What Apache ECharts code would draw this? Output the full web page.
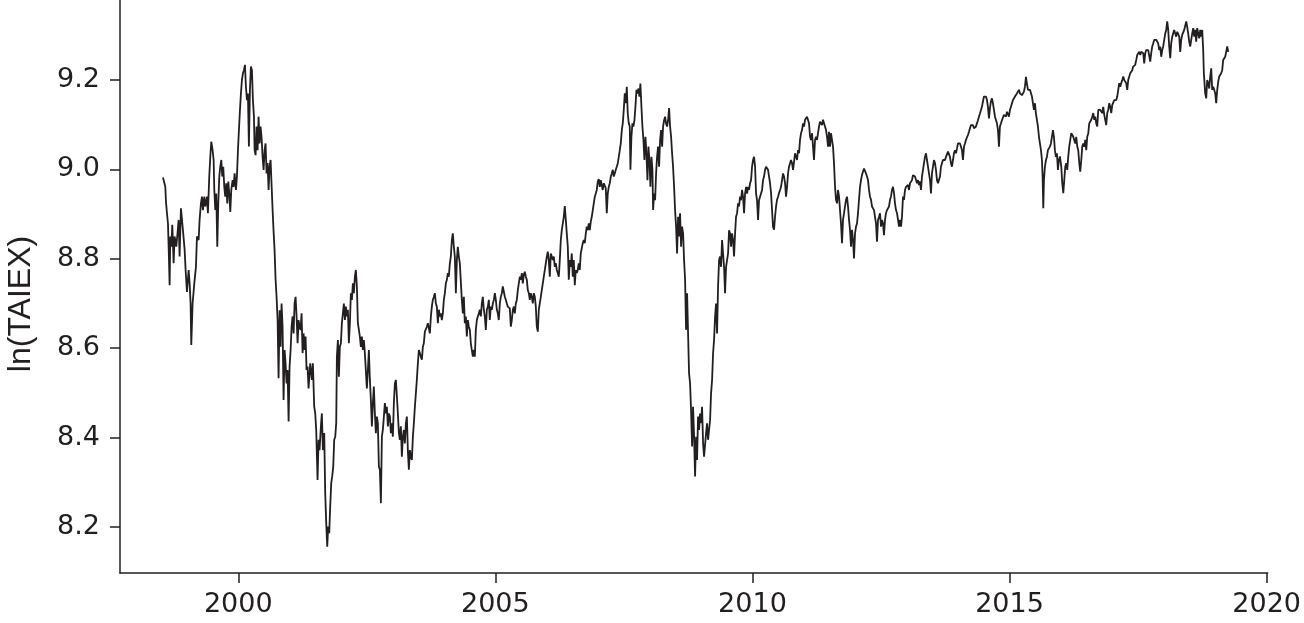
<!DOCTYPE html>
<html>
<head>
<meta charset="utf-8">
<script src="https://cdn.jsdelivr.net/npm/echarts@6/dist/echarts.min.js"></script>
<style>
html,body{margin:0;padding:0;background:#fff;}
#chart{width:1304px;height:623px;}
</style>
</head>
<body>
<div id="chart"></div>
<script>
// ln(TAIEX), [decimal year, value]
const seg1998_2001 = [[1998.536,8.982],[1998.581,8.961],[1998.594,8.928],[1998.613,8.902],[1998.633,8.879],[1998.646,8.827],[1998.665,8.741],[1998.678,8.850],[1998.698,8.827],[1998.717,8.876],[1998.743,8.790],[1998.762,8.850],[1998.795,8.827],[1998.821,8.861],[1998.840,8.887],[1998.859,8.805],[1998.885,8.913],[1998.905,8.917],[1998.924,8.864],[1998.957,8.820],[1998.976,8.775],[1999.002,8.726],[1999.035,8.775],[1999.054,8.745],[1999.073,8.700],[1999.086,8.607],[1999.112,8.700],[1999.145,8.745],[1999.177,8.782],[1999.197,8.850],[1999.229,8.842],[1999.248,8.887],[1999.274,8.924],[1999.294,8.939],[1999.313,8.909],[1999.339,8.939],[1999.358,8.917],[1999.391,8.939],[1999.410,8.902],[1999.436,8.984],[1999.456,9.028],[1999.475,9.062],[1999.501,9.043],[1999.521,9.021],[1999.534,8.954],[1999.553,8.909],[1999.572,8.946],[1999.592,8.827],[1999.611,8.924],[1999.631,8.984],[1999.650,9.006],[1999.670,9.021],[1999.689,8.984],[1999.708,9.006],[1999.728,8.961],[1999.747,8.939],[1999.767,8.969],[1999.786,8.924],[1999.806,8.973],[1999.825,8.946],[1999.845,8.905],[1999.864,8.954],[1999.890,8.976],[1999.909,8.961],[1999.929,8.991],[1999.955,8.954],[1999.974,8.984],[1999.994,9.043],[2000.013,9.088],[2000.033,9.133],[2000.052,9.170],[2000.071,9.200],[2000.091,9.215],[2000.110,9.222],[2000.130,9.234],[2000.149,9.185],[2000.169,9.155],[2000.188,9.170],[2000.207,9.051],[2000.227,9.178],[2000.246,9.230],[2000.266,9.222],[2000.285,9.155],[2000.305,9.118],[2000.318,9.043],[2000.337,9.032],[2000.356,9.096],[2000.376,9.043],[2000.395,9.118],[2000.415,9.058],[2000.434,9.096],[2000.454,9.070],[2000.473,9.028],[2000.493,8.999],[2000.512,9.043],[2000.531,9.058],[2000.551,8.991],[2000.570,9.014],[2000.590,8.954],[2000.609,9.006],[2000.629,9.021],[2000.648,8.965],[2000.668,8.909],[2000.687,8.861],[2000.706,8.820],[2000.726,8.753],[2000.745,8.715],[2000.765,8.663],[2000.784,8.533],[2000.804,8.685],[2000.823,8.603],[2000.842,8.700],[2000.862,8.648],[2000.881,8.484],[2000.901,8.596],[2000.920,8.566],[2000.940,8.521],[2000.959,8.551],[2000.979,8.436],[2000.998,8.559],[2001.018,8.596],[2001.037,8.648],[2001.056,8.671],[2001.076,8.633],[2001.095,8.700],[2001.115,8.715],[2001.134,8.671],[2001.154,8.611],[2001.173,8.663],[2001.192,8.648],[2001.212,8.641],[2001.231,8.678],[2001.251,8.589],[2001.270,8.633],[2001.290,8.596],[2001.309,8.626],[2001.328,8.551],[2001.348,8.559],[2001.367,8.510]];

const seg2001_2004 = [[2001.400,8.566],[2001.432,8.529],[2001.451,8.566],[2001.477,8.469],[2001.497,8.454],[2001.516,8.417],[2001.542,8.305],[2001.562,8.395],[2001.581,8.372],[2001.607,8.425],[2001.626,8.454],[2001.646,8.372],[2001.672,8.410],[2001.691,8.275],[2001.711,8.208],[2001.730,8.156],[2001.750,8.201],[2001.769,8.186],[2001.788,8.246],[2001.808,8.298],[2001.827,8.313],[2001.847,8.335],[2001.866,8.395],[2001.886,8.402],[2001.905,8.432],[2001.918,8.581],[2001.938,8.618],[2001.957,8.536],[2001.976,8.603],[2001.996,8.611],[2002.015,8.656],[2002.035,8.678],[2002.054,8.700],[2002.074,8.663],[2002.093,8.693],[2002.112,8.671],[2002.132,8.686],[2002.151,8.611],[2002.171,8.656],[2002.190,8.723],[2002.210,8.708],[2002.229,8.745],[2002.249,8.723],[2002.268,8.760],[2002.287,8.775],[2002.307,8.738],[2002.326,8.656],[2002.346,8.641],[2002.365,8.626],[2002.385,8.603],[2002.404,8.626],[2002.423,8.596],[2002.443,8.618],[2002.462,8.589],[2002.482,8.589],[2002.501,8.510],[2002.521,8.551],[2002.540,8.596],[2002.560,8.529],[2002.579,8.484],[2002.599,8.425],[2002.618,8.477],[2002.637,8.514],[2002.657,8.454],[2002.676,8.410],[2002.696,8.447],[2002.715,8.432],[2002.735,8.335],[2002.754,8.328],[2002.774,8.253],[2002.793,8.402],[2002.812,8.417],[2002.832,8.447],[2002.851,8.477],[2002.871,8.454],[2002.890,8.469],[2002.910,8.425],[2002.929,8.454],[2002.949,8.447],[2002.968,8.410],[2002.987,8.432],[2003.007,8.402],[2003.026,8.477],[2003.046,8.521],[2003.065,8.529],[2003.085,8.492],[2003.104,8.454],[2003.124,8.410],[2003.143,8.395],[2003.162,8.425],[2003.182,8.357],[2003.201,8.402],[2003.221,8.417],[2003.240,8.387],[2003.260,8.432],[2003.279,8.447],[2003.298,8.372],[2003.318,8.328],[2003.337,8.372],[2003.357,8.357],[2003.376,8.350],[2003.396,8.402],[2003.415,8.432],[2003.435,8.469],[2003.454,8.499],[2003.473,8.529],[2003.493,8.566],[2003.512,8.596],[2003.532,8.589],[2003.551,8.581],[2003.571,8.574],[2003.590,8.603],[2003.609,8.611],[2003.629,8.637],[2003.648,8.641],[2003.668,8.648],[2003.687,8.656],[2003.707,8.659],[2003.726,8.633],[2003.746,8.671],[2003.765,8.693],[2003.784,8.708],[2003.804,8.715],[2003.823,8.723],[2003.843,8.700],[2003.862,8.693],[2003.882,8.656],[2003.901,8.686],[2003.921,8.671],[2003.940,8.678],[2003.959,8.663],[2003.979,8.678],[2003.998,8.708],[2004.018,8.723],[2004.037,8.745],[2004.057,8.753],[2004.076,8.768],[2004.095,8.760],[2004.115,8.790],[2004.134,8.805],[2004.154,8.842],[2004.173,8.857],[2004.193,8.827],[2004.212,8.805],[2004.232,8.723],[2004.251,8.797],[2004.270,8.827],[2004.290,8.805],[2004.309,8.790]];

const seg2004_2007 = [[2004.329,8.790],[2004.348,8.708],[2004.368,8.678],[2004.387,8.715],[2004.406,8.656],[2004.426,8.671],[2004.445,8.626],[2004.465,8.663],[2004.484,8.648],[2004.504,8.641],[2004.523,8.611],[2004.542,8.596],[2004.562,8.581],[2004.581,8.596],[2004.601,8.581],[2004.620,8.641],[2004.640,8.663],[2004.659,8.671],[2004.679,8.678],[2004.698,8.686],[2004.717,8.671],[2004.737,8.700],[2004.756,8.715],[2004.776,8.686],[2004.795,8.671],[2004.815,8.641],[2004.834,8.686],[2004.854,8.693],[2004.873,8.708],[2004.892,8.663],[2004.912,8.693],[2004.931,8.686],[2004.951,8.700],[2004.970,8.708],[2004.990,8.723],[2005.009,8.708],[2005.029,8.686],[2005.048,8.678],[2005.067,8.663],[2005.087,8.700],[2005.106,8.715],[2005.126,8.723],[2005.145,8.738],[2005.165,8.741],[2005.184,8.715],[2005.204,8.708],[2005.223,8.700],[2005.242,8.693],[2005.262,8.697],[2005.281,8.689],[2005.301,8.648],[2005.320,8.663],[2005.340,8.686],[2005.359,8.693],[2005.378,8.678],[2005.398,8.700],[2005.417,8.708],[2005.437,8.730],[2005.456,8.745],[2005.476,8.760],[2005.495,8.753],[2005.515,8.768],[2005.534,8.745],[2005.553,8.764],[2005.573,8.771],[2005.592,8.760],[2005.612,8.753],[2005.631,8.730],[2005.651,8.723],[2005.670,8.708],[2005.689,8.723],[2005.709,8.715],[2005.728,8.700],[2005.748,8.723],[2005.767,8.715],[2005.787,8.693],[2005.806,8.648],[2005.826,8.637],[2005.845,8.686],[2005.864,8.700],[2005.884,8.715],[2005.903,8.730],[2005.923,8.745],[2005.942,8.760],[2005.962,8.775],[2005.981,8.790],[2006.001,8.805],[2006.020,8.816],[2006.039,8.797],[2006.059,8.760],[2006.078,8.812],[2006.098,8.805],[2006.117,8.797],[2006.137,8.805],[2006.156,8.782],[2006.175,8.790],[2006.195,8.775],[2006.214,8.768],[2006.234,8.760],[2006.253,8.797],[2006.273,8.842],[2006.292,8.864],[2006.312,8.879],[2006.331,8.894],[2006.350,8.918],[2006.370,8.887],[2006.389,8.857],[2006.409,8.827],[2006.428,8.753],[2006.448,8.797],[2006.467,8.782],[2006.486,8.812],[2006.506,8.760],[2006.525,8.797],[2006.545,8.741],[2006.564,8.775],[2006.584,8.768],[2006.603,8.775],[2006.622,8.790],[2006.642,8.775],[2006.661,8.812],[2006.681,8.812],[2006.700,8.835],[2006.720,8.842],[2006.739,8.835],[2006.759,8.857],[2006.778,8.872],[2006.797,8.864],[2006.817,8.879],[2006.836,8.864],[2006.856,8.883],[2006.875,8.894],[2006.895,8.909],[2006.914,8.924],[2006.934,8.939],[2006.953,8.946],[2006.972,8.954],[2006.992,8.973],[2007.011,8.978],[2007.031,8.961],[2007.050,8.976],[2007.070,8.973],[2007.089,8.954],[2007.109,8.969],[2007.128,8.973],[2007.147,8.958],[2007.167,8.902],[2007.186,8.946],[2007.206,8.961],[2007.225,8.969]];

const seg2007_2010 = [[2007.245,8.984],[2007.264,8.991],[2007.284,8.999],[2007.303,8.984],[2007.322,8.991],[2007.342,8.999],[2007.361,9.006],[2007.381,9.014],[2007.400,9.028],[2007.420,9.043],[2007.439,9.058],[2007.459,9.088],[2007.478,9.103],[2007.497,9.133],[2007.517,9.170],[2007.536,9.148],[2007.556,9.185],[2007.575,9.125],[2007.595,9.103],[2007.614,9.096],[2007.627,8.999],[2007.646,9.073],[2007.666,9.103],[2007.685,9.096],[2007.705,9.110],[2007.724,9.140],[2007.744,9.178],[2007.763,9.170],[2007.783,9.181],[2007.802,9.163],[2007.821,9.192],[2007.841,9.140],[2007.860,9.096],[2007.880,9.066],[2007.899,9.021],[2007.919,9.073],[2007.938,9.036],[2007.958,8.976],[2007.977,9.051],[2007.996,9.021],[2008.016,8.961],[2008.035,9.028],[2008.055,8.999],[2008.068,8.909],[2008.087,8.946],[2008.107,8.931],[2008.126,8.991],[2008.145,9.028],[2008.165,9.051],[2008.184,9.006],[2008.204,9.066],[2008.223,9.088],[2008.243,9.051],[2008.262,9.096],[2008.282,9.110],[2008.301,9.118],[2008.320,9.103],[2008.340,9.096],[2008.359,9.110],[2008.379,9.137],[2008.398,9.096],[2008.418,9.073],[2008.437,9.036],[2008.456,9.006],[2008.476,8.961],[2008.495,8.909],[2008.515,8.872],[2008.534,8.812],[2008.554,8.894],[2008.573,8.850],[2008.592,8.902],[2008.612,8.827],[2008.631,8.872],[2008.651,8.857],[2008.670,8.797],[2008.690,8.753],[2008.709,8.641],[2008.729,8.723],[2008.748,8.633],[2008.767,8.544],[2008.787,8.521],[2008.806,8.462],[2008.826,8.380],[2008.845,8.469],[2008.865,8.402],[2008.884,8.313],[2008.904,8.402],[2008.923,8.350],[2008.942,8.447],[2008.962,8.417],[2008.981,8.454],[2009.001,8.432],[2009.020,8.469],[2009.040,8.387],[2009.059,8.357],[2009.079,8.357],[2009.098,8.410],[2009.117,8.432],[2009.137,8.395],[2009.156,8.417],[2009.176,8.439],[2009.195,8.499],[2009.215,8.529],[2009.234,8.588],[2009.253,8.618],[2009.273,8.670],[2009.292,8.700],[2009.312,8.633],[2009.331,8.738],[2009.351,8.797],[2009.370,8.805],[2009.390,8.782],[2009.409,8.842],[2009.428,8.812],[2009.448,8.782],[2009.467,8.723],[2009.487,8.782],[2009.506,8.797],[2009.526,8.812],[2009.545,8.864],[2009.564,8.857],[2009.584,8.827],[2009.603,8.857],[2009.623,8.842],[2009.642,8.805],[2009.662,8.857],[2009.681,8.894],[2009.701,8.902],[2009.720,8.924],[2009.739,8.917],[2009.759,8.939],[2009.778,8.931],[2009.798,8.954],[2009.817,8.939],[2009.837,8.902],[2009.856,8.946],[2009.876,8.961],[2009.895,8.946],[2009.914,8.961],[2009.934,8.954],[2009.953,8.969],[2009.973,8.976],[2009.992,9.006],[2010.012,9.021],[2010.031,9.028],[2010.051,9.006],[2010.070,8.946],[2010.089,8.931],[2010.109,8.887],[2010.128,8.931]];

const seg2010_2013 = [[2010.148,8.939],[2010.167,8.939],[2010.187,8.954],[2010.206,8.976],[2010.225,8.984],[2010.245,8.999],[2010.264,9.006],[2010.284,9.006],[2010.303,8.999],[2010.323,8.984],[2010.342,8.969],[2010.362,8.947],[2010.381,8.909],[2010.400,8.872],[2010.420,8.865],[2010.439,8.894],[2010.459,8.917],[2010.478,8.932],[2010.498,8.939],[2010.517,8.947],[2010.537,8.954],[2010.556,8.961],[2010.575,8.976],[2010.595,8.991],[2010.614,8.984],[2010.634,8.969],[2010.653,8.939],[2010.673,8.961],[2010.692,8.991],[2010.711,9.006],[2010.731,9.010],[2010.750,9.021],[2010.770,9.014],[2010.789,8.999],[2010.809,9.017],[2010.828,9.036],[2010.848,9.029],[2010.867,9.021],[2010.886,9.043],[2010.906,9.036],[2010.925,9.066],[2010.945,9.081],[2010.964,9.088],[2010.984,9.103],[2011.003,9.096],[2011.023,9.111],[2011.042,9.114],[2011.061,9.118],[2011.081,9.122],[2011.100,9.103],[2011.120,9.073],[2011.139,9.066],[2011.159,9.081],[2011.178,9.051],[2011.197,9.021],[2011.217,9.066],[2011.236,9.073],[2011.256,9.066],[2011.275,9.081],[2011.295,9.096],[2011.314,9.107],[2011.334,9.111],[2011.353,9.099],[2011.372,9.111],[2011.392,9.103],[2011.411,9.107],[2011.431,9.088],[2011.450,9.073],[2011.470,9.051],[2011.489,9.084],[2011.509,9.051],[2011.528,9.081],[2011.547,9.066],[2011.567,9.051],[2011.586,9.014],[2011.606,8.961],[2011.625,8.932],[2011.645,8.924],[2011.664,8.954],[2011.684,8.939],[2011.703,8.909],[2011.722,8.879],[2011.742,8.835],[2011.761,8.887],[2011.781,8.902],[2011.800,8.917],[2011.820,8.932],[2011.839,8.939],[2011.859,8.917],[2011.878,8.887],[2011.897,8.865],[2011.917,8.827],[2011.936,8.865],[2011.956,8.842],[2011.975,8.801],[2011.995,8.857],[2012.014,8.872],[2012.033,8.879],[2012.053,8.902],[2012.072,8.932],[2012.092,8.961],[2012.111,8.976],[2012.131,8.988],[2012.150,8.984],[2012.170,9.002],[2012.189,9.006],[2012.208,8.991],[2012.228,8.984],[2012.247,8.976],[2012.267,8.954],[2012.286,8.939],[2012.306,8.932],[2012.325,8.917],[2012.345,8.917],[2012.364,8.909],[2012.383,8.894],[2012.403,8.879],[2012.422,8.838],[2012.442,8.887],[2012.461,8.894],[2012.481,8.902],[2012.500,8.872],[2012.520,8.887],[2012.539,8.879],[2012.558,8.853],[2012.578,8.887],[2012.597,8.902],[2012.617,8.909],[2012.636,8.909],[2012.656,8.917],[2012.675,8.932],[2012.694,8.939],[2012.714,8.954],[2012.733,8.961],[2012.753,8.947],[2012.772,8.924],[2012.792,8.909],[2012.811,8.902],[2012.831,8.887],[2012.850,8.872],[2012.869,8.887],[2012.889,8.872],[2012.908,8.894],[2012.928,8.939],[2012.947,8.932],[2012.967,8.954],[2012.986,8.961],[2013.006,8.958],[2013.025,8.965],[2013.044,8.954]];

const seg2013_2016 = [[2013.064,8.969],[2013.083,8.973],[2013.103,8.976],[2013.122,8.987],[2013.142,8.991],[2013.161,8.984],[2013.180,8.980],[2013.200,8.969],[2013.219,8.976],[2013.239,8.965],[2013.258,8.973],[2013.278,8.954],[2013.297,8.984],[2013.317,8.999],[2013.336,9.014],[2013.355,9.028],[2013.375,9.036],[2013.394,9.021],[2013.414,9.006],[2013.433,8.991],[2013.453,8.976],[2013.472,8.946],[2013.491,8.991],[2013.511,9.006],[2013.530,9.021],[2013.550,9.014],[2013.569,8.999],[2013.589,8.976],[2013.608,8.969],[2013.628,8.965],[2013.647,8.984],[2013.666,9.006],[2013.686,9.014],[2013.705,9.021],[2013.725,9.025],[2013.744,9.021],[2013.764,9.028],[2013.783,9.032],[2013.803,9.040],[2013.822,9.043],[2013.841,9.028],[2013.861,9.014],[2013.880,9.006],[2013.900,9.021],[2013.919,9.036],[2013.939,9.043],[2013.958,9.036],[2013.978,9.047],[2013.997,9.058],[2014.016,9.062],[2014.036,9.058],[2014.055,9.051],[2014.075,9.043],[2014.094,9.021],[2014.114,9.051],[2014.133,9.058],[2014.152,9.066],[2014.172,9.069],[2014.191,9.077],[2014.211,9.084],[2014.230,9.092],[2014.250,9.099],[2014.269,9.096],[2014.289,9.099],[2014.308,9.092],[2014.327,9.088],[2014.347,9.096],[2014.366,9.103],[2014.386,9.110],[2014.405,9.118],[2014.425,9.125],[2014.444,9.133],[2014.463,9.140],[2014.483,9.152],[2014.502,9.163],[2014.522,9.166],[2014.541,9.163],[2014.561,9.155],[2014.580,9.140],[2014.600,9.114],[2014.619,9.137],[2014.638,9.152],[2014.658,9.159],[2014.677,9.148],[2014.697,9.133],[2014.716,9.118],[2014.736,9.114],[2014.755,9.103],[2014.775,9.088],[2014.794,9.051],[2014.813,9.096],[2014.833,9.103],[2014.852,9.110],[2014.872,9.114],[2014.891,9.122],[2014.911,9.125],[2014.930,9.118],[2014.950,9.129],[2014.969,9.125],[2014.988,9.118],[2015.008,9.133],[2015.027,9.140],[2015.047,9.144],[2015.066,9.155],[2015.086,9.159],[2015.105,9.163],[2015.125,9.166],[2015.144,9.170],[2015.163,9.174],[2015.183,9.178],[2015.202,9.170],[2015.222,9.174],[2015.241,9.166],[2015.261,9.170],[2015.280,9.174],[2015.299,9.185],[2015.319,9.207],[2015.338,9.192],[2015.358,9.178],[2015.377,9.181],[2015.397,9.178],[2015.416,9.174],[2015.436,9.163],[2015.455,9.148],[2015.474,9.133],[2015.494,9.148],[2015.513,9.125],[2015.533,9.110],[2015.552,9.096],[2015.572,9.073],[2015.591,9.058],[2015.611,9.043],[2015.630,9.021],[2015.643,8.984],[2015.656,8.913],[2015.669,8.976],[2015.688,9.006],[2015.708,9.021],[2015.727,9.028],[2015.746,9.043],[2015.766,9.040],[2015.785,9.051],[2015.805,9.058],[2015.824,9.073],[2015.844,9.088],[2015.863,9.073],[2015.882,9.043],[2015.902,9.028],[2015.921,9.036],[2015.941,8.999],[2015.960,9.021]];

const seg2016_2019 = [[2015.980,9.029],[2016.006,9.006],[2016.025,8.969],[2016.045,8.947],[2016.064,8.976],[2016.083,9.006],[2016.103,9.014],[2016.122,8.999],[2016.142,9.029],[2016.161,9.051],[2016.181,9.066],[2016.200,9.081],[2016.220,9.084],[2016.239,9.073],[2016.258,9.066],[2016.278,9.058],[2016.297,9.073],[2016.317,9.051],[2016.336,9.043],[2016.356,9.014],[2016.375,8.995],[2016.395,9.021],[2016.414,9.051],[2016.433,9.058],[2016.453,9.051],[2016.472,9.066],[2016.492,9.043],[2016.511,9.073],[2016.531,9.081],[2016.550,9.103],[2016.569,9.107],[2016.589,9.111],[2016.608,9.118],[2016.628,9.126],[2016.647,9.111],[2016.667,9.118],[2016.686,9.103],[2016.706,9.096],[2016.725,9.133],[2016.744,9.137],[2016.764,9.133],[2016.783,9.137],[2016.803,9.126],[2016.822,9.140],[2016.842,9.122],[2016.861,9.118],[2016.880,9.099],[2016.900,9.126],[2016.919,9.133],[2016.939,9.148],[2016.958,9.140],[2016.978,9.126],[2016.997,9.144],[2017.017,9.148],[2017.036,9.155],[2017.055,9.155],[2017.075,9.155],[2017.094,9.163],[2017.114,9.178],[2017.133,9.193],[2017.153,9.185],[2017.172,9.193],[2017.192,9.200],[2017.211,9.208],[2017.230,9.200],[2017.250,9.204],[2017.269,9.193],[2017.289,9.178],[2017.308,9.200],[2017.328,9.208],[2017.347,9.215],[2017.367,9.219],[2017.386,9.222],[2017.405,9.230],[2017.425,9.226],[2017.444,9.234],[2017.464,9.245],[2017.483,9.256],[2017.503,9.260],[2017.522,9.263],[2017.542,9.256],[2017.561,9.263],[2017.580,9.267],[2017.600,9.260],[2017.619,9.237],[2017.639,9.260],[2017.658,9.267],[2017.678,9.271],[2017.697,9.267],[2017.716,9.263],[2017.736,9.241],[2017.755,9.260],[2017.775,9.275],[2017.794,9.282],[2017.814,9.290],[2017.833,9.293],[2017.853,9.290],[2017.872,9.286],[2017.891,9.282],[2017.911,9.267],[2017.930,9.275],[2017.950,9.252],[2017.969,9.267],[2017.989,9.275],[2018.008,9.290],[2018.028,9.304],[2018.047,9.312],[2018.066,9.331],[2018.086,9.312],[2018.105,9.275],[2018.125,9.249],[2018.144,9.282],[2018.164,9.297],[2018.183,9.293],[2018.202,9.312],[2018.222,9.304],[2018.241,9.297],[2018.261,9.308],[2018.280,9.304],[2018.300,9.297],[2018.319,9.263],[2018.339,9.290],[2018.358,9.301],[2018.377,9.297],[2018.397,9.312],[2018.416,9.316],[2018.436,9.331],[2018.455,9.319],[2018.475,9.304],[2018.494,9.286],[2018.514,9.275],[2018.533,9.290],[2018.552,9.304],[2018.572,9.316],[2018.591,9.297],[2018.611,9.312],[2018.630,9.286],[2018.650,9.316],[2018.669,9.304],[2018.689,9.293],[2018.708,9.312],[2018.727,9.297],[2018.747,9.312],[2018.766,9.267],[2018.779,9.215],[2018.792,9.193],[2018.805,9.170],[2018.825,9.159],[2018.844,9.200],[2018.864,9.193],[2018.883,9.181],[2018.903,9.208],[2018.922,9.226],[2018.941,9.178],[2018.961,9.185],[2018.980,9.178],[2019.000,9.170],[2019.019,9.148],[2019.039,9.178],[2019.058,9.196],[2019.078,9.208],[2019.097,9.211],[2019.116,9.215],[2019.136,9.222],[2019.155,9.245],[2019.175,9.249],[2019.194,9.252],[2019.214,9.263],[2019.233,9.275],[2019.253,9.263]];

const xTickYears = [2000, 2005, 2010, 2015, 2020];
const yTickValues = [8.2, 8.4, 8.6, 8.8, 9.0, 9.2];
const yAxisTitle = 'ln(TAIEX)';

const series = [].concat(seg1998_2001, seg2001_2004, seg2004_2007, seg2007_2010, seg2010_2013, seg2013_2016, seg2016_2019);

const ink = '#231f20';
const tickFont = '"DejaVu Sans", "Liberation Sans", Arial, sans-serif';
const titleFont = '"Liberation Sans", Arial, Helvetica, sans-serif';

const chart = echarts.init(document.getElementById('chart'), null, {renderer: 'canvas'});
chart.setOption({
  animation: false,
  backgroundColor: '#ffffff',
  grid: {left: 120, right: 36, top: 0, bottom: 50, containLabel: false},
  xAxis: {
    type: 'value',
    min: 1997.7,
    max: 2020.02,
    splitLine: {show: false},
    axisLine: {show: true, lineStyle: {color: ink, width: 1.5}},
    axisTick: {show: true, length: 10, lineStyle: {color: ink, width: 1.5}, customValues: xTickYears},
    axisLabel: {show: true, customValues: xTickYears, margin: 18, color: ink, fontSize: 27, fontFamily: tickFont,
      formatter: v => String(Math.round(v))}
  },
  yAxis: {
    type: 'value',
    min: 8.097,
    max: 9.379,
    splitLine: {show: false},
    axisLine: {show: true, lineStyle: {color: ink, width: 1.5}},
    axisTick: {show: true, length: 10, lineStyle: {color: ink, width: 1.5}, customValues: yTickValues},
    axisLabel: {show: true, customValues: yTickValues, margin: 20, color: ink, fontSize: 27, fontFamily: tickFont,
      formatter: v => v.toFixed(1)}
  },
  graphic: [{
    type: 'text',
    x: 21, y: 304,
    rotation: Math.PI / 2,
    style: {text: yAxisTitle, fill: ink, font: '32px ' + titleFont, align: 'center', verticalAlign: 'middle'}
  }],
  series: [{
    type: 'line',
    data: series,
    showSymbol: false,
    symbol: 'none',
    lineStyle: {color: ink, width: 1.8},
    silent: true
  }]
});
</script>
</body>
</html>
